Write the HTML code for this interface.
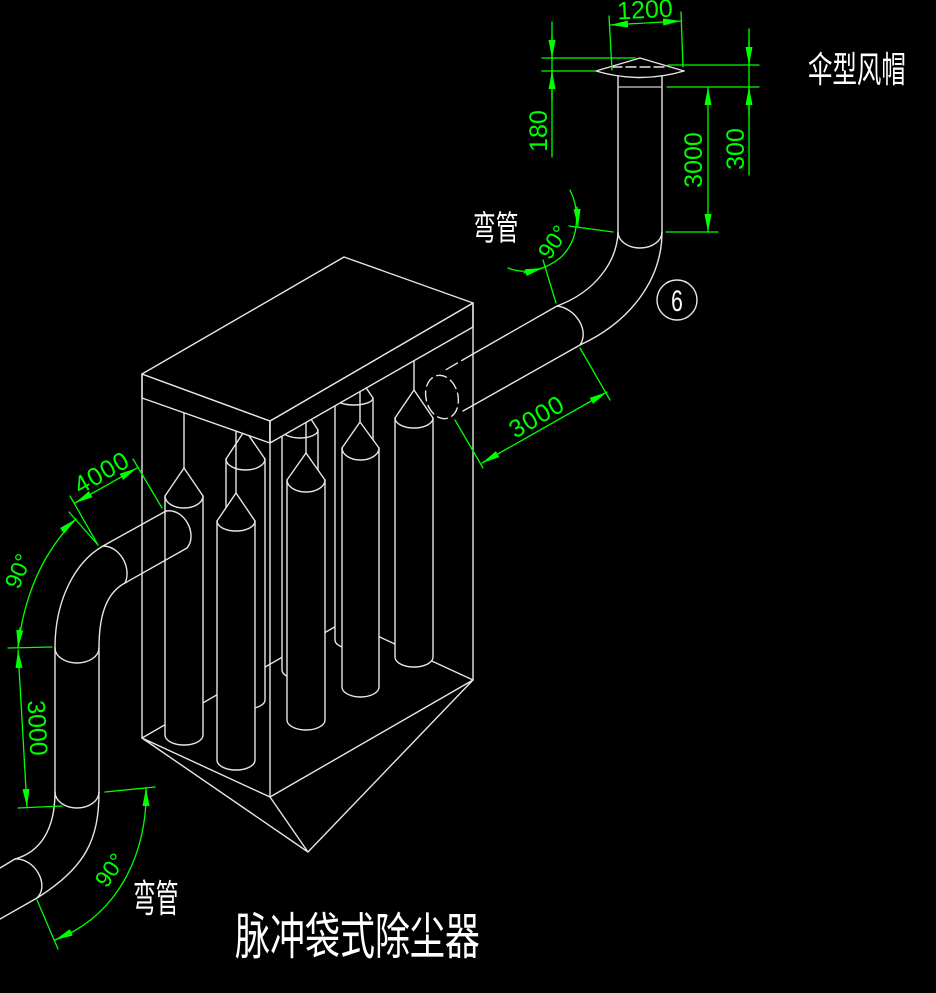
<!DOCTYPE html>
<html><head><meta charset="utf-8"><style>
html,body{margin:0;padding:0;background:#000;}
svg{display:block;}
</style></head><body>
<svg width="936" height="993" viewBox="0 0 936 993" xmlns="http://www.w3.org/2000/svg">
<rect x="0" y="0" width="936" height="993" fill="#000"/>
<defs>
<marker id="ar" viewBox="0 0 18 7" refX="18" refY="3.5" markerWidth="18" markerHeight="7" orient="auto-start-reverse" markerUnits="userSpaceOnUse"><path d="M0,0L18,3.5L0,7z" fill="#00ff00"/></marker>
</defs>

<g stroke="#e6e6e6" stroke-width="1.4" fill="none" stroke-linecap="round" stroke-linejoin="round">
<!-- hopper back edges -->
<path d="M142,738 L345,621 L473,680"/>
<!-- back bags -->
<g fill="#000">
<path d="M226,459 L245,430 L265,459 L265,700 A19.5,9 0 0 1 226,700 Z"/>
<path d="M282,430 L300,402 L318,430 L318,670 A18,9 0 0 1 282,670 Z"/>
<path d="M335,398 L354,370 L373,398 L373,640 A19,9 0 0 1 335,640 Z"/>
</g>
<path d="M226,459 A19.5,11 0 0 0 265,459"/>
<path d="M282,430 A18,8 0 0 0 318,430"/>
<path d="M335,398 A19,7 0 0 0 373,398"/>
<!-- front bags -->
<g fill="#000">
<path d="M165,496 L184,468 L203,496 L203,735 A19,10 0 0 1 165,735 Z"/>
<path d="M217,521 L236,493 L255,521 L255,760 A19,10 0 0 1 217,760 Z"/>
<path d="M287,480 L306,453 L325,480 L325,720 A19,10 0 0 1 287,720 Z"/>
<path d="M342,448 L360,422 L379,448 L379,687 A18.5,10 0 0 1 342,687 Z"/>
<path d="M395,418 L414,390 L433,418 L433,657 A19,10 0 0 1 395,657 Z"/>
</g>
<path d="M165,496 A19,12 0 0 0 203,496"/>
<path d="M217,521 A19,10 0 0 0 255,521"/>
<path d="M287,480 A19,12 0 0 0 325,480"/>
<path d="M342,448 A18.5,12 0 0 0 379,448"/>
<path d="M395,418 A19,10 0 0 0 433,418"/>
<!-- hangers -->
<path d="M184,413 L184,468 M236,431 L236,493 M306,422 L306,453 M360,392 L360,422 M414,361 L414,390"/>
<!-- hopper front -->
<path d="M142,738 L270,797 L473,680 M142,738 L308,852 L473,680 M270,797 L308,852"/>
<!-- box -->
<path fill="#000" d="M142,374 L270,421 L270,443 L142,398 Z"/>
<path fill="#000" d="M270,421 L473,303 L473,327 L270,443 Z"/>
<path fill="#000" d="M142,374 L344,257 L473,303 L270,421 Z"/>
<path d="M142,374 L142,738 M270,421 L270,797 M473,303 L473,680"/>

<!-- top duct -->
<path d="M557,306 L473,354"/>
<path d="M473,354 L442,372" stroke-dasharray="13 5"/>
<path d="M580,345 L463,411"/>
<ellipse cx="442" cy="397" rx="16" ry="22" transform="rotate(-14 442 397)" stroke-dasharray="10 5"/>
<path d="M557,306 C575,308 590,330 580,345"/>
<path d="M662,232 C662,280 630,322 580,345"/>
<path d="M618,232 C617,262 595,292 557,306"/>
<!-- stack -->
<path d="M618,76 L618,232 M662,76 L662,232"/>
<path d="M618,232 A22,16 0 0 0 662,232"/>
<path d="M619,87 L661,87" stroke="#aaaaaa"/>
<path d="M596,71 L640,58 L684,71"/>
<path d="M596,71 Q640,84 684,71"/>
<path d="M612,67 L668,67" stroke-dasharray="10 4"/>

<!-- left duct -->
<path d="M103,546 L166,511 M125,583 L187,548"/>
<path d="M166,511 C185,508 198,535 187,548"/>
<path d="M103,546 C120,546 132,568 125,583"/>
<path d="M103,546 C75,562 55,600 55,648"/>
<path d="M125,583 C108,592 99,612 99,648"/>
<path d="M55,648 L55,792 M99,648 L99,792"/>
<path d="M55,648 A22,15 0 0 0 99,648"/>
<path d="M55,792 A22,16 0 0 0 99,792"/>
<path d="M99,792 C99,840 85,868 37,898"/>
<path d="M55,792 C55,830 40,852 15,859"/>
<path d="M15,859 C35,858 50,885 37,898"/>
<path d="M15,859 L0,868 M37,898 L0,919"/>

<!-- circle 6 -->
<circle cx="677" cy="300" r="20"/>
</g>

<!-- green dimensions -->
<g stroke="#00ff00" stroke-width="1.3" fill="none" stroke-linecap="round">
<!-- 1200 -->
<path d="M609,16 L612,70 M681,12 L683,67"/>
<path d="M610,25 L681,21" marker-start="url(#ar)" marker-end="url(#ar)"/>
<!-- 180 -->
<path d="M552,22 L552,157"/>
<path d="M552,35 L552,58" marker-end="url(#ar)"/>
<path d="M552,100 L552,71" marker-end="url(#ar)"/>
<path d="M542,58 L635,58 M542,71 L596,71"/>
<!-- 300 -->
<path d="M749,29 L749,175"/>
<path d="M749,40 L749,65" marker-end="url(#ar)"/>
<path d="M749,115 L749,87" marker-end="url(#ar)"/>
<path d="M668,65 L759,65 M667,87 L759,87"/>
<!-- 3000 top -->
<path d="M708,87 L708,232" marker-start="url(#ar)" marker-end="url(#ar)"/>
<path d="M666,232 L718,232"/>
<!-- top angle -->
<path d="M569,226 L613,232 M543,260 L556,303"/>
<path d="M570,190 C580,210 580,240 560,258 C545,270 525,275 508,268"/>
<path d="M577,207 L578,227" marker-end="url(#ar)"/>
<path d="M524,273 L543,268" marker-end="url(#ar)"/>
<!-- 3000 duct -->
<path d="M455,420 L483,468 M580,348 L610,400"/>
<path d="M482,463 L607,392" marker-start="url(#ar)" marker-end="url(#ar)"/>
<!-- 4000 -->
<path d="M133,459 L162,508 M70,496 L98,545"/>
<path d="M75,503 L137,468" marker-start="url(#ar)" marker-end="url(#ar)"/>
<!-- left angle -->
<path d="M69,512 L98,545"/>
<path d="M76,519 C50,545 25,585 18,648"/>
<path d="M62,531 L76,519" marker-end="url(#ar)"/>
<path d="M20,628 L18,648" marker-end="url(#ar)"/>
<!-- left 3000 -->
<path d="M18,650 L27,807" marker-start="url(#ar)" marker-end="url(#ar)"/>
<path d="M8,648 L52,647 M18,808 L62,806"/>
<!-- bottom angle -->
<path d="M105,792 L155,787 M37,900 L58,949"/>
<path d="M146,788 C148,850 120,915 55,940"/>
<path d="M146,806 L146,788" marker-end="url(#ar)"/>
<path d="M72,932 L55,940" marker-end="url(#ar)"/>
</g>

<g fill="#00ff00" font-family="Liberation Sans, sans-serif" font-size="25" text-anchor="middle" dominant-baseline="central">
<text transform="translate(645,10) rotate(-3)">1200</text>
<text transform="translate(539,131) rotate(-90)">180</text>
<text transform="translate(736,149) rotate(-90)">300</text>
<text transform="translate(694,160) rotate(-90)">3000</text>
<text transform="translate(537,417) rotate(-30)" letter-spacing="1">3000</text>
<text transform="translate(102,473) rotate(-30)" letter-spacing="1">4000</text>
<text transform="translate(37,728) rotate(87)">3000</text>
<text transform="translate(553,242) rotate(-55)" font-size="23">90°</text>
<text transform="translate(18,571) rotate(-68)" font-size="23">90°</text>
<text transform="translate(110,870) rotate(-55)" font-size="23">90°</text>
</g>

<g fill="#ffffff" font-family="Liberation Sans, 'Noto Sans CJK SC', sans-serif">
<text transform="translate(677,311) scale(0.7,1)" font-size="30" text-anchor="middle">6</text>
<text transform="translate(235,954) scale(0.7,1)" font-size="50">脉冲袋式除尘器</text>
<text transform="translate(808,82) scale(0.68,1)" font-size="36">伞型风帽</text>
<text transform="translate(473,240) scale(0.67,1)" font-size="34">弯管</text>
<text transform="translate(133,912) scale(0.6,1)" font-size="38">弯管</text>
</g>
</svg>
</body></html>
